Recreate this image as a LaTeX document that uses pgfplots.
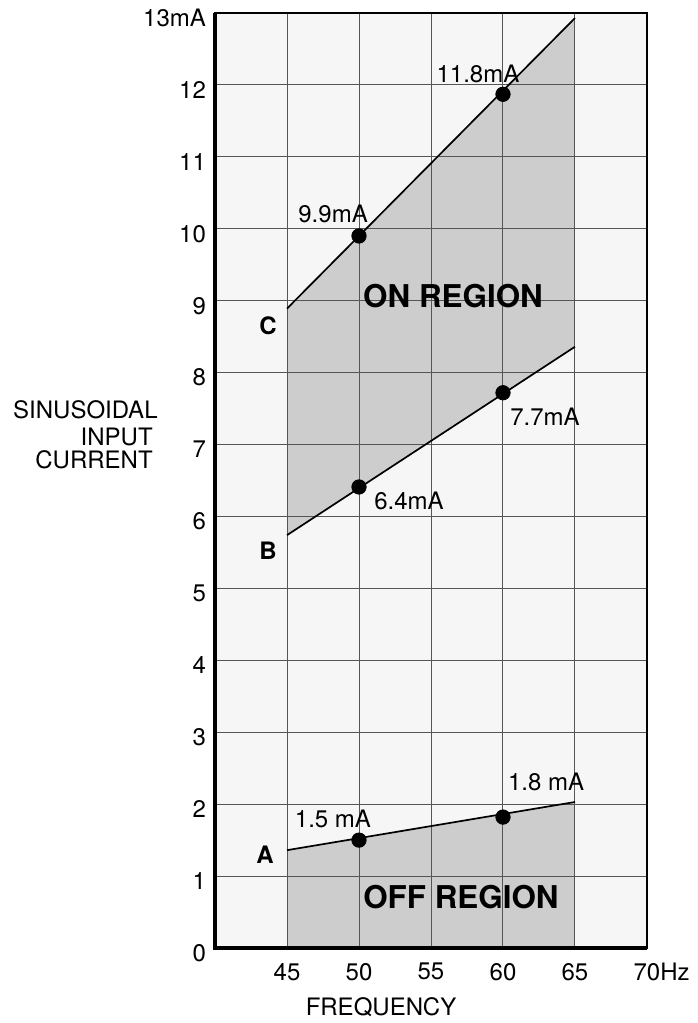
\documentclass[border=0pt]{standalone}
\usepackage{pgfplots}
\pgfplotsset{compat=1.18}
\usepackage{fontspec}
\setmainfont{TeX Gyre Heros}
\definecolor{bgc}{HTML}{F6F6F6}
\definecolor{reg}{HTML}{CDCDCD}
\definecolor{gridc}{HTML}{555555}
\newcommand{\lab}{\fontsize{12}{14}\selectfont}
\newcommand{\bigreg}{\fontsize{15.7}{18}\selectfont\bfseries}
\begin{document}
\begin{tikzpicture}
\begin{axis}[
  set layers,
  at={(107.5pt,37.5pt)}, anchor=south west,
  width=216pt, height=467.5pt, scale only axis,
  xmin=40, xmax=70, ymin=0, ymax=13,
  xtick={45,50,55,60,65,70},
  xticklabels={45,50,55,60,65,{70\rlap{Hz}}},
  ytick={0,1,2,3,4,5,6,7,8,9,10,11,12,13},
  yticklabels={0,1,2,3,4,5,6,7,8,9,10,11,12,{13mA}},
  grid=major,
  major grid style={gridc, line width=0.5pt},
  major tick length=0pt,
  axis line style={line width=0.6pt},
  axis background/.style={fill=bgc},
  tick label style={font=\lab},
  xticklabel style={yshift=-4pt},
  yticklabel style={xshift=-1pt, yshift=-2.5pt},
  clip=false,
]
% shaded regions
\addplot[on layer=axis background, fill=reg, draw=none] coordinates {(45,5.74) (65,8.36) (65,12.93) (45,8.89)} -- cycle;
\addplot[on layer=axis background, fill=reg, draw=none] coordinates {(45,0) (45,1.36) (65,2.03) (65,0)} -- cycle;
% lines
\addplot[black, line width=0.85pt] coordinates {(45,8.89) (65,12.93)};
\addplot[black, line width=0.85pt] coordinates {(45,5.74) (65,8.36)};
\addplot[black, line width=0.85pt] coordinates {(45,1.36) (65,2.03)};
% points
\addplot[only marks, mark=*, mark size=3.6pt, black] coordinates {(50,9.9) (60,11.87) (50,6.41) (60,7.72) (50,1.5) (60,1.82)};
% thick axes
\draw[line width=2.3pt] (rel axis cs:0,1) -- (rel axis cs:0,0) -- (rel axis cs:1,0);
% annotations
\node[font=\lab] at (axis cs:48.2,10.21) {9.9mA};
\node[font=\lab] at (axis cs:58.26,12.15) {11.8mA};
\node[font=\lab] at (axis cs:53.47,6.215) {6.4mA};
\node[font=\lab] at (axis cs:62.92,7.38) {7.7mA};
\node[font=\lab] at (axis cs:48.19,1.79) {1.5 mA};
\node[font=\lab] at (axis cs:62.99,2.31) {1.8 mA};
\node[font=\bigreg] at (axis cs:56.53,9.07) {ON REGION};
\node[font=\bigreg] at (axis cs:57.08,0.71) {OFF REGION};
\node[font=\lab\bfseries] at (axis cs:43.68,8.65) {C};
\node[font=\lab\bfseries] at (axis cs:43.68,5.53) {B};
\node[font=\lab\bfseries] at (axis cs:43.47,1.29) {A};
\node[font=\lab] at (axis cs:51.53,-0.82) {FREQUENCY};
\node[font=\lab, anchor=east, inner sep=0pt] at (axis cs:36.04,7.48) {SINUSOIDAL};
\node[font=\lab, anchor=east, inner sep=0pt] at (axis cs:35.7,7.1) {INPUT};
\node[font=\lab, anchor=east, inner sep=0pt] at (axis cs:35.7,6.79) {CURRENT};
\end{axis}
\pgfresetboundingbox
\path[use as bounding box] (0,0) rectangle (348.5pt,511.5pt);
\end{tikzpicture}
\end{document}
